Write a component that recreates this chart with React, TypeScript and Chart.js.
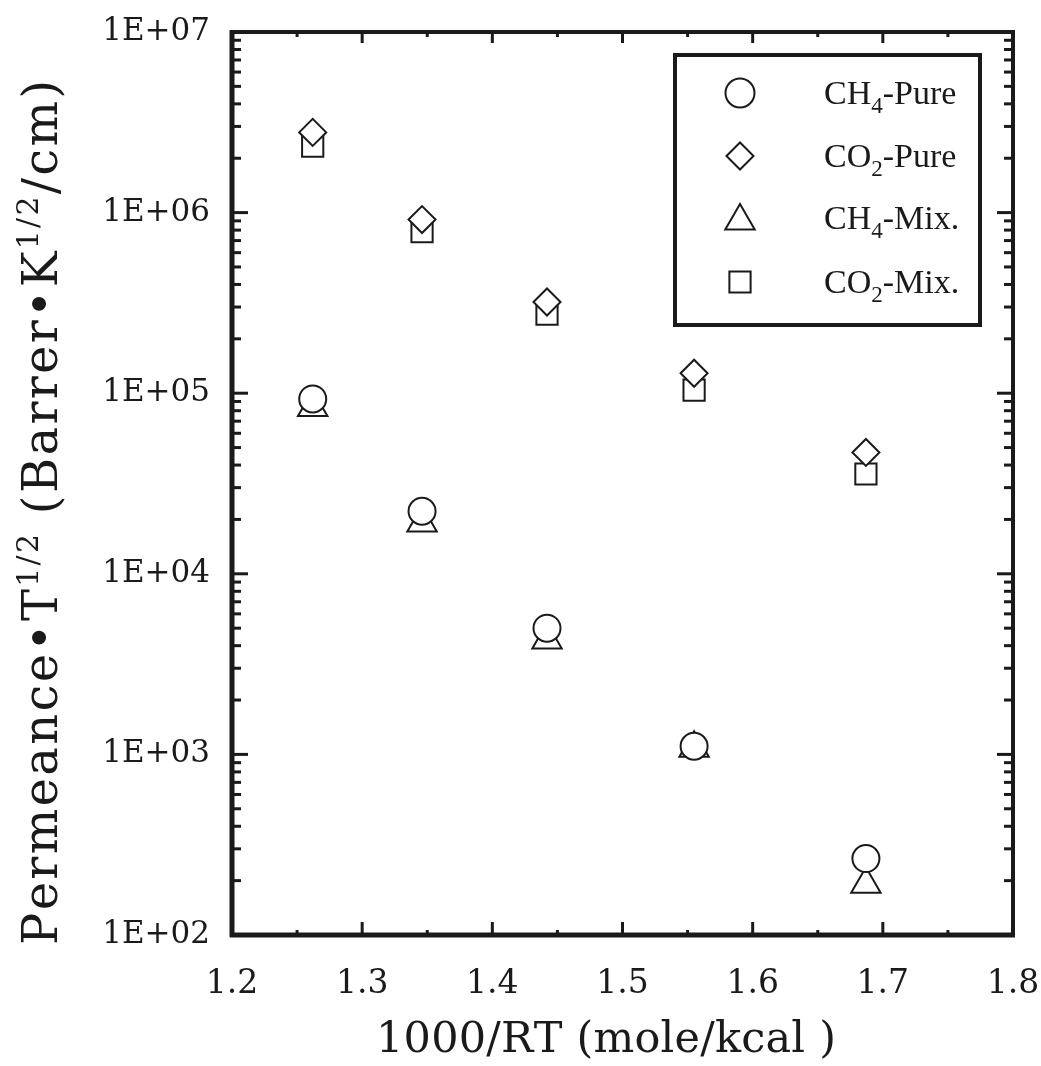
import React, { useEffect, useRef } from 'react';
import { Chart, registerables } from 'chart.js';

Chart.register(...registerables);

// ---------------- data ----------------
const X_VALUES = [1.262, 1.346, 1.442, 1.555, 1.687];
const CH4_PURE = [9.3e4, 2.22e4, 5.0e3, 1.11e3, 265];
const CO2_PURE = [2.78e6, 9.15e5, 3.2e5, 1.29e5, 4.7e4];
const CH4_MIX = [8.34e4, 1.91e4, 4.3e3, 1.08e3, 191];
const CO2_MIX = [2.33e6, 7.85e5, 2.74e5, 1.04e5, 3.57e4];

const X_TICKS = [1.2, 1.3, 1.4, 1.5, 1.6, 1.7, 1.8];
const X_MINOR_TICKS = [1.25, 1.35, 1.45, 1.55, 1.65, 1.75];
const Y_TICKS = [1e2, 1e3, 1e4, 1e5, 1e6, 1e7];
const Y_MINOR_MULTIPLIERS = [2, 3, 4, 5, 6, 7, 8, 9];

type Seg = { t: string; sup?: boolean; sub?: boolean };

const LEGEND_LABELS: Seg[][] = [
  [{ t: 'CH' }, { t: '4', sub: true }, { t: '-Pure' }],
  [{ t: 'CO' }, { t: '2', sub: true }, { t: '-Pure' }],
  [{ t: 'CH' }, { t: '4', sub: true }, { t: '-Mix.' }],
  [{ t: 'CO' }, { t: '2', sub: true }, { t: '-Mix.' }],
];
const SERIES_NAMES = ['CH4-Pure', 'CO2-Pure', 'CH4-Mix.', 'CO2-Mix.'];
const X_TITLE: Seg[] = [{ t: '1000/RT (mole/kcal )' }];
const Y_TITLE: Seg[] = [
  { t: 'Permeance•T' },
  { t: '1/2', sup: true },
  { t: ' (Barrer•K' },
  { t: '1/2', sup: true },
  { t: '/cm)' },
];

const INK = '#1a1a1a';
const POINT_STYLES = ['circle', 'rectRot', 'triangle', 'rect'];
const POINT_RADII = [13.5, 13.5, 17, 15];

// ---------------- helpers ----------------
function segFont(seg: Seg, size: number, family: string) {
  const s = seg.sup ? size * 0.62 : seg.sub ? size * 0.68 : size;
  return { font: `${s}px "${family}"`, dy: seg.sup ? -size * 0.4 : seg.sub ? size * 0.25 : 0 };
}

function measureSegs(ctx: CanvasRenderingContext2D, segs: Seg[], size: number, family: string) {
  let w = 0;
  let n = 0;
  for (const seg of segs) {
    const f = segFont(seg, size, family);
    ctx.font = f.font;
    for (const ch of seg.t) {
      w += ctx.measureText(ch).width;
      n++;
    }
  }
  return { w, n };
}

function drawSegs(
  ctx: CanvasRenderingContext2D,
  segs: Seg[],
  x: number,
  y: number,
  size: number,
  family: string,
  targetWidth?: number
) {
  let ls = 0;
  if (targetWidth) {
    const m = measureSegs(ctx, segs, size, family);
    ls = (targetWidth - m.w) / Math.max(1, m.n - 1);
  }
  let cx = x;
  ctx.textBaseline = 'alphabetic';
  ctx.textAlign = 'left';
  for (const seg of segs) {
    const f = segFont(seg, size, family);
    ctx.font = f.font;
    for (const ch of seg.t) {
      ctx.fillText(ch, cx, y + f.dy);
      cx += ctx.measureText(ch).width + ls;
    }
  }
}

function drawMarker(ctx: CanvasRenderingContext2D, style: string, x: number, y: number, r: number) {
  ctx.beginPath();
  if (style === 'circle') {
    ctx.arc(x, y, r, 0, Math.PI * 2);
  } else if (style === 'rectRot') {
    ctx.moveTo(x - r, y);
    ctx.lineTo(x, y - r);
    ctx.lineTo(x + r, y);
    ctx.lineTo(x, y + r);
    ctx.closePath();
  } else if (style === 'triangle') {
    const h = Math.sin(Math.PI / 3) * r;
    ctx.moveTo(x, y - r);
    ctx.lineTo(x + h, y + r / 2);
    ctx.lineTo(x - h, y + r / 2);
    ctx.closePath();
  } else {
    const s = Math.SQRT1_2 * r;
    ctx.rect(x - s, y - s, 2 * s, 2 * s);
  }
  ctx.fillStyle = '#fff';
  ctx.fill();
  ctx.stroke();
}

const framePlugin = {
  id: 'frameDecor',
  afterDraw(chart: any) {
    const { ctx, chartArea, scales } = chart;
    const { left, right, top, bottom } = chartArea;
    const xs = scales.x;
    const ys = scales.y;
    ctx.save();
    ctx.strokeStyle = INK;
    ctx.fillStyle = INK;
    ctx.lineCap = 'butt';

    const line = (x1: number, y1: number, x2: number, y2: number) => {
      ctx.beginPath();
      ctx.moveTo(x1, y1);
      ctx.lineTo(x2, y2);
      ctx.stroke();
    };

    // y ticks (inward, both sides)
    ctx.lineWidth = 3;
    Y_TICKS.forEach((v) => {
      const py = ys.getPixelForValue(v);
      line(left, py, left + 16, py);
      line(right - 16, py, right, py);
    });
    Y_TICKS.slice(0, -1).forEach((d) => {
      Y_MINOR_MULTIPLIERS.forEach((m) => {
        const py = ys.getPixelForValue(d * m);
        line(left, py, left + 9, py);
        line(right - 9, py, right, py);
      });
    });
    // x ticks
    X_TICKS.forEach((v) => {
      const px = xs.getPixelForValue(v);
      line(px, bottom, px, bottom - 13);
      line(px, top, px, top + 11);
    });
    X_MINOR_TICKS.forEach((v) => {
      const px = xs.getPixelForValue(v);
      line(px, bottom, px, bottom - 5);
      line(px, top, px, top + 5);
    });

    // frame
    ctx.lineWidth = 4;
    ctx.strokeRect(left, top, right - left, bottom - top);
    ctx.lineWidth = 5;
    line(left - 2, bottom, right + 2, bottom);
    line(left, top - 2, left, bottom + 2);

    // legend
    const bx = 675, by = 55, bw = 305, bh = 270;
    ctx.fillStyle = '#fff';
    ctx.fillRect(bx, by, bw, bh);
    ctx.lineWidth = 4;
    ctx.strokeRect(bx, by, bw, bh);
    const rows = [93, 156, 218, 282];
    const legendR = [14.5, 13.5, 17, 15];
    ctx.lineWidth = 2;
    rows.forEach((ry, i) => {
      ctx.strokeStyle = INK;
      drawMarker(ctx, POINT_STYLES[i], 740, POINT_STYLES[i] === 'triangle' ? ry + 3 : ry, legendR[i]);
      ctx.fillStyle = INK;
      drawSegs(ctx, LEGEND_LABELS[i], 824, ry + 11, 34, 'Liberation Serif');
    });

    // axis titles
    ctx.fillStyle = INK;
    drawSegs(ctx, X_TITLE, 376, 1052, 43, 'DejaVu Serif', 460);
    ctx.save();
    ctx.translate(57, 945);
    ctx.rotate(-Math.PI / 2);
    drawSegs(ctx, Y_TITLE, 0, 0, 48, 'DejaVu Serif', 865);
    ctx.restore();

    ctx.restore();
  },
};

function fmtExp(v: number) {
  const e = Math.round(Math.log10(v));
  return '1E+' + String(e).padStart(2, '0');
}

export default function App() {
  const canvasRef = useRef<HTMLCanvasElement | null>(null);

  useEffect(() => {
    const canvas = canvasRef.current;
    if (!canvas) return;
    const series = [CH4_PURE, CO2_PURE, CH4_MIX, CO2_MIX];
    const chart = new Chart(canvas, {
      type: 'scatter',
      data: {
        datasets: series.map((vals, i) => ({
          label: SERIES_NAMES[i],
          data: X_VALUES.map((x, j) => ({ x, y: vals[j] })),
          pointStyle: POINT_STYLES[i] as any,
          pointRadius: POINT_RADII[i],
          pointHoverRadius: POINT_RADII[i],
          pointBorderWidth: 2,
          pointBorderColor: INK,
          pointBackgroundColor: '#ffffff',
          showLine: false,
        })),
      },
      options: {
        responsive: false,
        animation: false,
        devicePixelRatio: 1,
        events: [],
        layout: { padding: { left: 0, top: 32, right: 28, bottom: 0 } },
        plugins: {
          legend: { display: false },
          tooltip: { enabled: false },
          title: { display: false },
        },
        scales: {
          x: {
            type: 'linear',
            min: 1.2,
            max: 1.8,
            grid: { display: false, drawTicks: false },
            border: { display: false },
            ticks: {
              autoSkip: false,
              maxRotation: 0,
              padding: 30,
              color: INK,
              font: { family: 'DejaVu Serif', size: 33 },
              callback: (v: any) => Number(v).toFixed(1),
            },
            afterBuildTicks: (s: any) => {
              s.ticks = X_TICKS.map((v) => ({ value: v }));
            },
            afterFit: (s: any) => {
              s.height = 131;
              s.paddingLeft = 0;
              s.paddingRight = 0;
            },
          },
          y: {
            type: 'logarithmic',
            min: 100,
            max: 1e7,
            grid: { display: false, drawTicks: false },
            border: { display: false },
            ticks: {
              autoSkip: false,
              padding: 22,
              color: INK,
              font: { family: 'DejaVu Serif', size: 31 },
              callback: (v: any) => fmtExp(Number(v)),
            },
            afterBuildTicks: (s: any) => {
              s.ticks = Y_TICKS.map((v) => ({ value: v }));
            },
            afterFit: (s: any) => {
              s.width = 232;
              s.paddingTop = 0;
              s.paddingBottom = 0;
            },
          },
        },
      } as any,
      plugins: [framePlugin],
    });
    return () => chart.destroy();
  }, []);

  return (
    <div style={{ position: 'fixed', left: 0, top: 0, width: 1041, height: 1066, background: '#fff' }}>
      <canvas ref={canvasRef} width={1041} height={1066} style={{ display: 'block' }} />
    </div>
  );
}
